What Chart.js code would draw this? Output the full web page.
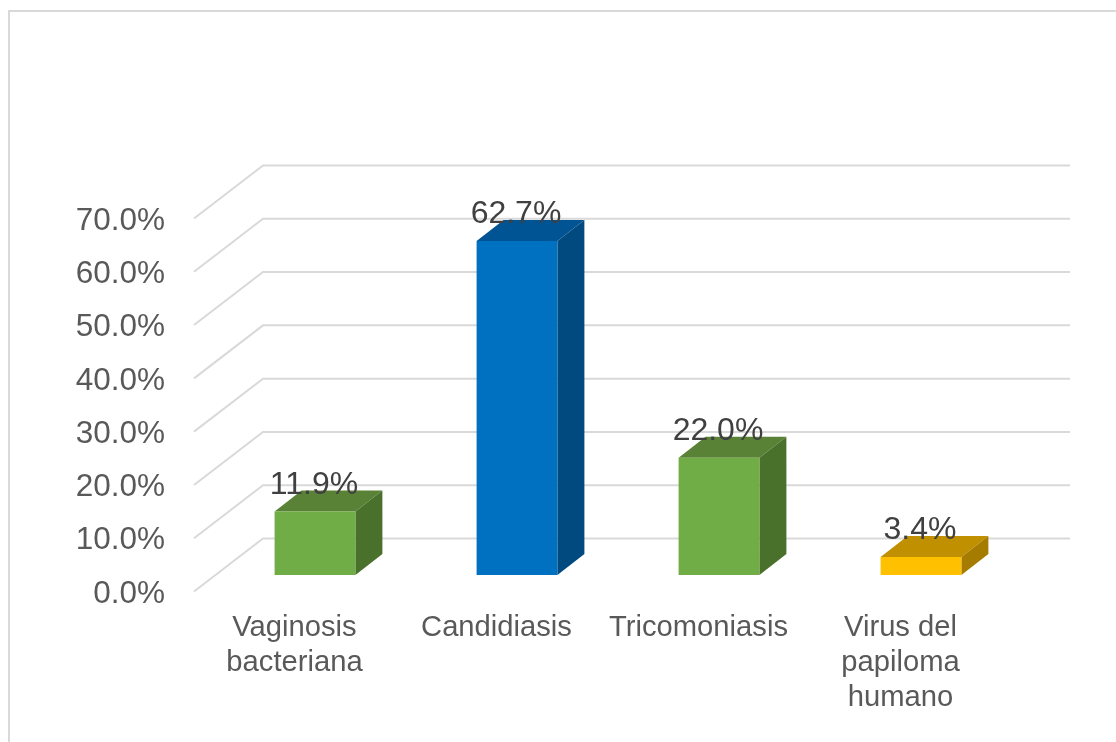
<!DOCTYPE html>
<html>
<head>
<meta charset="utf-8">
<style>
  html, body { margin: 0; padding: 0; background: #fff; }
  canvas { display: block; }
</style>
<script src="https://cdn.jsdelivr.net/npm/chart.js@4"></script>
</head>
<body>
<canvas id="chart" width="1116" height="742"></canvas>
<script>
const categories = [['Vaginosis', 'bacteriana'], 'Candidiasis', 'Tricomoniasis', ['Virus del', 'papiloma', 'humano']];
const percentages = [11.9, 62.7, 22.0, 3.4];
const yTicks = [0, 10, 20, 30, 40, 50, 60, 70];

const frontColors = ['#70AD47', '#0070C0', '#70AD47', '#FFC000'];
const topColors = ['#5A8237', '#005494', '#5A8237', '#C09000'];
const sideColors = ['#4A712C', '#004A80', '#4A712C', '#A67C00'];

const pct = v => v.toFixed(1) + '%';

// fake 3D: back wall, floor diagonals and the bar sides
const depth3d = {
    id: 'depth3d',
    beforeDraw(chart) {
        const c = chart.ctx;
        c.save();
        c.strokeStyle = '#D9D9D9';
        c.lineWidth = 2;
        c.beginPath();
        c.moveTo(9, 742);
        c.lineTo(9, 11);
        c.lineTo(1116, 11);
        c.stroke();
        c.restore();
    },
    beforeDatasetsDraw(chart) {
        const c = chart.ctx;
        const y = chart.scales.y;
        c.save();
        c.strokeStyle = '#D9D9D9';
        c.lineWidth = 2;
        yTicks.forEach(t => {
            const p = y.getPixelForValue(t);
            c.beginPath();
            c.moveTo(194, p + 16.5);
            c.lineTo(263, p - 36.5);
            c.lineTo(1070, p - 36.5);
            c.stroke();
        });
        chart.getDatasetMeta(0).data.forEach((bar, i) => {
            const l = bar.x - bar.width / 2;
            const r = bar.x + bar.width / 2;
            const dx = 27, dy = 21;
            c.fillStyle = topColors[i];
            c.beginPath();
            c.moveTo(l, bar.y);
            c.lineTo(l + dx, bar.y - dy);
            c.lineTo(r + dx, bar.y - dy);
            c.lineTo(r, bar.y);
            c.closePath();
            c.fill();
            c.fillStyle = sideColors[i];
            c.beginPath();
            c.moveTo(r, bar.y);
            c.lineTo(r + dx, bar.y - dy);
            c.lineTo(r + dx, bar.base - dy);
            c.lineTo(r, bar.base);
            c.closePath();
            c.fill();
        });
        c.restore();
    },
    afterDatasetsDraw(chart) {
        const c = chart.ctx;
        c.save();
        c.fillStyle = '#404040';
        c.font = '32px "Liberation Sans"';
        c.textAlign = 'center';
        c.textBaseline = 'alphabetic';
        chart.getDatasetMeta(0).data.forEach((bar, i) => {
            c.fillText(pct(percentages[i]), bar.x - 1, bar.y - 18);
        });
        c.restore();
    }
};

new Chart(document.getElementById('chart').getContext('2d'), {
    type: 'bar',
    data: {
        labels: categories,
        datasets: [{
            data: percentages,
            backgroundColor: frontColors,
            borderWidth: 0,
            barPercentage: 0.4,
            categoryPercentage: 1
        }]
    },
    options: {
        responsive: false,
        animation: false,
        layout: { padding: { top: 202, right: 94, left: 0, bottom: 0 } },
        plugins: { legend: { display: false }, title: { display: false }, tooltip: { enabled: false } },
        scales: {
            x: {
                grid: { display: false },
                border: { display: false },
                afterFit(s) { s.height = 167; },
                ticks: {
                    color: '#595959',
                    font: { family: 'Liberation Sans', size: 29.2 },
                    padding: 27,
                    labelOffset: -20.5,
                    maxRotation: 0,
                    autoSkip: false
                }
            },
            y: {
                min: 0,
                max: 70,
                grid: { display: false },
                border: { display: false },
                afterFit(s) { s.width = 214; },
                afterBuildTicks(s) { s.ticks = yTicks.map(value => ({ value })); },
                ticks: {
                    color: '#595959',
                    font: { family: 'Liberation Sans', size: 31.5 },
                    padding: 41,
                    labelOffset: 19,
                    callback: v => pct(v)
                }
            }
        }
    },
    plugins: [depth3d]
});
</script>
</body>
</html>
